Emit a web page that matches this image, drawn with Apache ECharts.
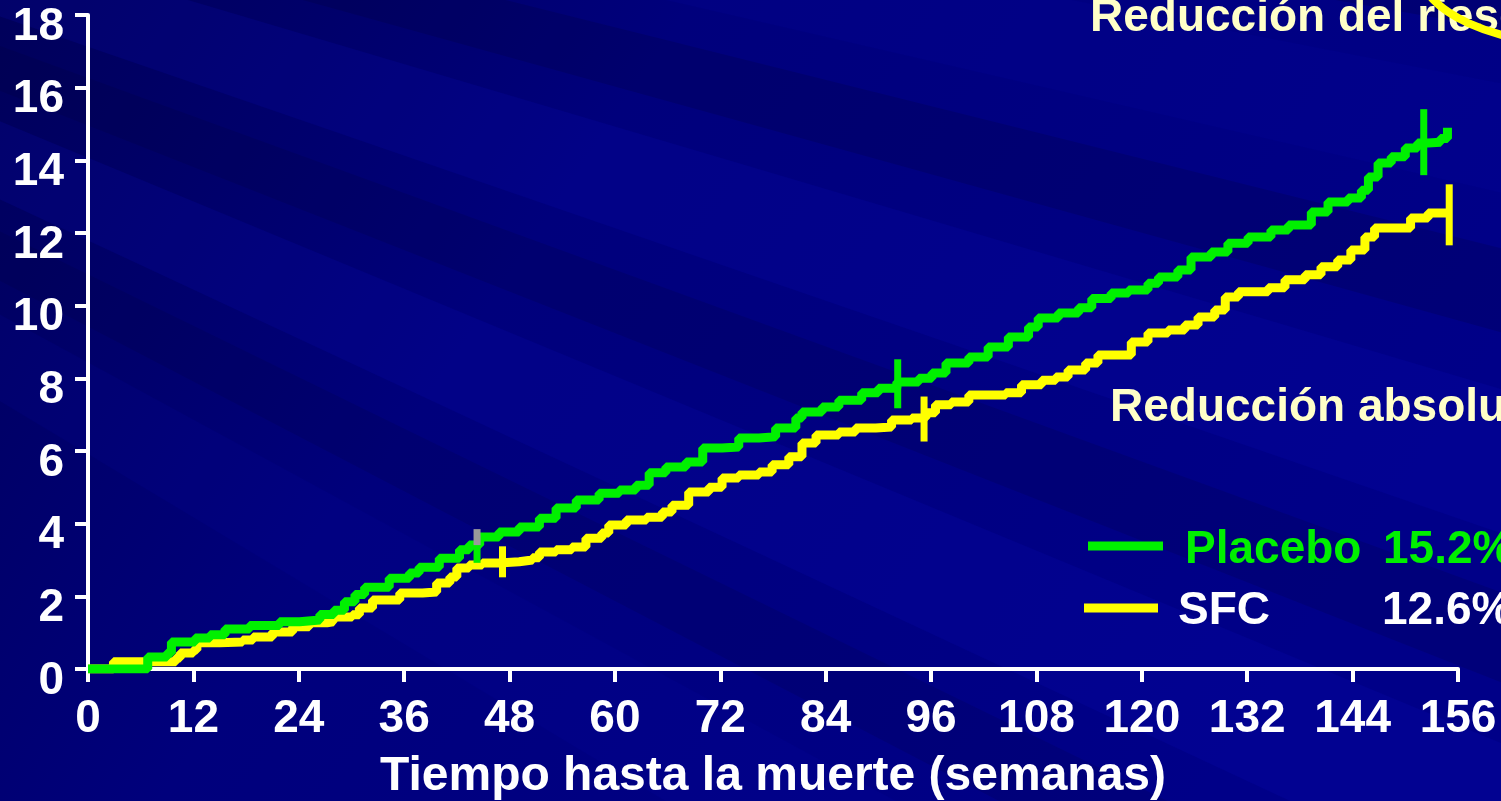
<!DOCTYPE html>
<html>
<head>
<meta charset="utf-8">
<script src="https://cdn.jsdelivr.net/npm/echarts@6/dist/echarts.min.js"></script>
<style>
html, body { margin: 0; padding: 0; background: #00007f; overflow: hidden; }
#chart { width: 1501px; height: 801px; }
</style>
</head>
<body>
<div id="chart"></div>
<script>
// semanas / % mortalidad acumulada
const weekTicks = [0, 12, 24, 36, 48, 60, 72, 84, 96, 108, 120, 132, 144, 156]

const placebo = [
  [0, 0], [6.8, 0.33], [9.0, 0.44], [9.5, 0.74], [12.2, 0.85], [13.9, 0.94], [15.6, 1.1],
  [18.4, 1.2], [21.8, 1.3], [24.1, 1.35], [26.4, 1.5], [28, 1.62], [29.2, 1.85], [30.4, 2.05],
  [31.5, 2.25], [34.3, 2.5], [36.6, 2.64], [37.7, 2.8], [40, 3.05], [42.3, 3.28], [43.4, 3.41],
  [44.6, 3.63], [46.8, 3.77], [49.1, 3.91], [51.4, 4.15], [53.3, 4.43], [55.6, 4.65], [58.2, 4.84],
  [60.5, 4.93], [62.4, 5.06], [63.9, 5.4], [65.8, 5.56], [68.1, 5.7], [70, 6.08], [72.2, 6.11],
  [74.1, 6.36], [76.4, 6.39], [78.3, 6.63], [80.6, 6.91], [81.3, 7.07], [83.6, 7.21], [85.5, 7.4],
  [88.1, 7.6], [90, 7.73], [92.1, 7.9], [94.6, 8.0], [96.1, 8.15], [97.7, 8.42], [100.3, 8.59],
  [102.5, 8.86], [104.8, 9.14], [107.1, 9.41], [108.2, 9.66], [110.5, 9.8], [112.8, 9.94],
  [114.3, 10.2], [116.5, 10.35], [118.5, 10.43], [120.7, 10.62], [121.9, 10.79], [124.1, 10.98],
  [125.6, 11.34], [127.9, 11.48], [129.8, 11.72], [132.1, 11.89], [134.7, 12.08], [136.7, 12.22],
  [139.3, 12.58], [141.2, 12.85], [143.5, 12.96], [145, 13.18], [145.8, 13.54], [146.9, 13.93],
  [148.4, 14.1], [150, 14.34], [151.4, 14.48], [152.6, 14.5], [154, 14.6], [154.8, 14.9]
]

const sfc = [
  [0, 0], [2.9, 0.2], [10, 0.3], [10.5, 0.44], [12, 0.52], [12.4, 0.72], [15, 0.74], [17.6, 0.8],
  [18.8, 0.88], [21, 1.02], [23.3, 1.16], [25.2, 1.27], [27.2, 1.3], [27.9, 1.43], [30.1, 1.49],
  [30.9, 1.68], [32.4, 1.9], [35.5, 2.09], [38.1, 2.12], [39.7, 2.37], [41.2, 2.53], [42, 2.78],
  [43.4, 2.86], [44.9, 2.92], [46.8, 2.95], [49.1, 3.0], [50.6, 3.06], [51.4, 3.22], [53.3, 3.28],
  [55.1, 3.36], [56.7, 3.6], [58.5, 3.74], [59.3, 3.96], [61.3, 4.1], [63.6, 4.18], [65.4, 4.32],
  [66.5, 4.51], [68.4, 4.87], [70.7, 5.0], [72.2, 5.26], [74.1, 5.34], [76.4, 5.42], [77.9, 5.62],
  [79.8, 5.84], [81.3, 6.22], [82.9, 6.44], [85.5, 6.52], [87.4, 6.63], [89.7, 6.66], [91.5, 6.85],
  [93.8, 6.91], [95.4, 7.05], [96.5, 7.27], [98.3, 7.35], [100.3, 7.54], [104.5, 7.6], [106.3, 7.82],
  [108.6, 7.95], [110.2, 8.04], [111.6, 8.23], [113.6, 8.42], [115, 8.64], [118.1, 8.64],
  [118.8, 9.0], [120.7, 9.25], [123, 9.33], [124.9, 9.47], [126.4, 9.69], [128.3, 9.88],
  [129.5, 10.24], [131, 10.38], [133.2, 10.38], [134.4, 10.49], [136.3, 10.71], [138.6, 10.85],
  [140.4, 11.07], [142.3, 11.26], [143.8, 11.53], [145.4, 11.89], [146.5, 12.14], [149.5, 12.14],
  [150.6, 12.41], [152.6, 12.55], [154.8, 12.55]
]

// marcas de censura
const placeboCensor = [[44.3, 3.17], [92.2, 7.85], [152.1, 14.5]]
const placeboCensorGrey = [[44.3, 3.63]]
const sfcCensor = [[47.2, 2.95], [95.2, 6.88], [155, 12.5]]

const legendLabels = ['Placebo', 'SFC']
const legendValues = ['15.2%', '12.6%']
const noteTop = 'Reducción del riesgo'
const noteMid = 'Reducción absoluta'

const FONT = '"Liberation Sans", Arial, sans-serif'
const cream = '#ffffc8'
const green = '#00f000'
const yellow = '#ffff00'

const placeboCensorH = [18, 49, 66]
const sfcCensorH = [31, 45, 61]

// fondo: rayos diagonales suaves
function ray(a1, a2, color) {
  const ox = -1500, oy = -500, r = 4500
  return {
    type: 'polygon', z: -10, silent: true,
    shape: { points: [[ox, oy],
      [ox + r * Math.cos(a1 * Math.PI / 180), oy + r * Math.sin(a1 * Math.PI / 180)],
      [ox + r * Math.cos(a2 * Math.PI / 180), oy + r * Math.sin(a2 * Math.PI / 180)]] },
    style: { fill: color }
  }
}
const bg = [
  { type: 'rect', z: -20, silent: true, shape: { x: 0, y: 0, width: 1501, height: 801 },
    style: { fill: new echarts.graphic.LinearGradient(0, 0, 0.8, 1, [
      { offset: 0, color: '#00005a' }, { offset: 0.4, color: '#00007c' }, { offset: 1, color: '#000088' }]) } },
  ray(8, 10, 'rgba(0,0,40,0.18)'),
  ray(11, 13, 'rgba(10,10,170,0.14)'),
  ray(14, 15.5, 'rgba(0,0,40,0.16)'),
  ray(16.5, 19, 'rgba(10,10,190,0.16)'),
  ray(20, 21.5, 'rgba(0,0,50,0.16)'),
  ray(22.5, 25, 'rgba(10,10,190,0.16)'),
  ray(26, 27.5, 'rgba(0,0,50,0.14)'),
  ray(28.5, 31, 'rgba(10,10,170,0.12)')
]

const chart = echarts.init(document.getElementById('chart'))
chart.setOption({
  backgroundColor: 'transparent',
  animation: false,
  grid: { left: 88, right: 43, top: 15, bottom: 132, outerBoundsMode: 'none', containLabel: false },
  xAxis: {
    type: 'value', min: 0, max: 156, interval: 12,
    name: 'Tiempo hasta la muerte (semanas)',
    nameLocation: 'middle', nameGap: 84,
    nameTextStyle: { color: '#fff', fontSize: 48, fontWeight: 'bold', fontFamily: FONT },
    axisLine: { lineStyle: { color: '#fff', width: 4 } },
    axisTick: { length: 13, lineStyle: { color: '#fff', width: 4 } },
    axisLabel: { color: '#fff', fontSize: 46, fontWeight: 'bold', fontFamily: FONT, margin: 27,
      formatter: v => weekTicks.includes(v) ? String(v) : '' },
    splitLine: { show: false }
  },
  yAxis: {
    type: 'value', min: 0, max: 18, interval: 2,
    axisLine: { show: true, lineStyle: { color: '#fff', width: 4 } },
    axisTick: { show: true, length: 13, lineStyle: { color: '#fff', width: 4 } },
    axisLabel: { color: '#fff', fontSize: 46, fontWeight: 'bold', fontFamily: FONT, margin: 24,
      verticalAlign: 'top', lineHeight: 24 },
    splitLine: { show: false }
  },
  series: [
    { name: 'SFC', type: 'line', data: sfc, step: 'end', symbol: 'none',
      lineStyle: { color: yellow, width: 9 }, z: 3 },
    { name: 'Placebo', type: 'line', data: placebo, step: 'end', symbol: 'none',
      lineStyle: { color: green, width: 9 }, z: 4 },
    { type: 'scatter', data: sfcCensor, symbol: 'rect',
      symbolSize: (v, p) => [7, sfcCensorH[p.dataIndex]],
      itemStyle: { color: yellow, opacity: 1 }, z: 5 },
    { type: 'scatter', data: placeboCensor, symbol: 'rect',
      symbolSize: (v, p) => [7, placeboCensorH[p.dataIndex]],
      itemStyle: { color: green, opacity: 1 }, z: 5 },
    { type: 'scatter', data: placeboCensorGrey, symbol: 'rect', symbolSize: [7, 16],
      itemStyle: { color: '#9a9a9a', opacity: 1 }, z: 5 }
  ],
  graphic: bg.concat([
    { type: 'text', z: 100, x: 1090, y: 18,
      style: { text: noteTop, fill: cream, font: 'bold 46px ' + FONT, verticalAlign: 'middle' } },
    { type: 'ellipse', z: 100, shape: { cx: 1585, cy: -30, rx: 165, ry: 75 },
      style: { fill: 'none', stroke: yellow, lineWidth: 8 } },
    { type: 'text', z: 100, x: 1110, y: 408,
      style: { text: noteMid, fill: cream, font: 'bold 46px ' + FONT, verticalAlign: 'middle' } },
    { type: 'line', z: 100, shape: { x1: 1088, y1: 546, x2: 1163, y2: 546 },
      style: { stroke: green, lineWidth: 9 } },
    { type: 'text', z: 100, x: 1185, y: 550,
      style: { text: legendLabels[0], fill: green, font: 'bold 46px ' + FONT, verticalAlign: 'middle' } },
    { type: 'text', z: 100, x: 1383, y: 550,
      style: { text: legendValues[0], fill: green, font: 'bold 46px ' + FONT, verticalAlign: 'middle' } },
    { type: 'line', z: 100, shape: { x1: 1084, y1: 608, x2: 1158, y2: 608 },
      style: { stroke: yellow, lineWidth: 9 } },
    { type: 'text', z: 100, x: 1178, y: 611,
      style: { text: legendLabels[1], fill: '#fff', font: 'bold 46px ' + FONT, verticalAlign: 'middle' } },
    { type: 'text', z: 100, x: 1382, y: 611,
      style: { text: legendValues[1], fill: '#fff', font: 'bold 46px ' + FONT, verticalAlign: 'middle' } }
  ])
})
</script>
</body>
</html>
